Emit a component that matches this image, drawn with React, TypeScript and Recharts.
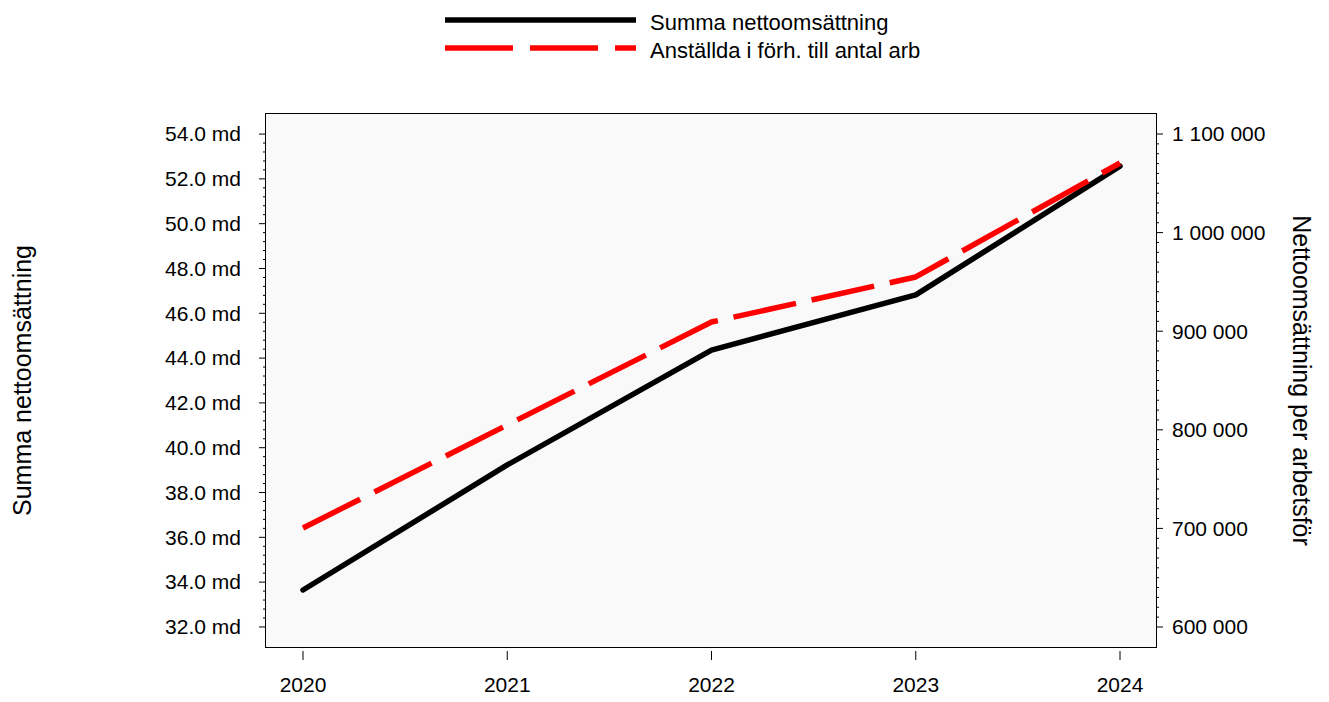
import React from 'react';
import { LineChart, Line, XAxis, YAxis, CartesianGrid } from 'recharts';

const years = ['2020', '2021', '2022', '2023', '2024'];
const summaNetto = [33.65, 39.23, 44.36, 46.82, 52.57]; // md
const perArbetsfor = [700400, 804900, 909300, 955000, 1070600];
const leftMajorTicks = [32, 34, 36, 38, 40, 42, 44, 46, 48, 50, 52, 54];
const rightMajorTicks = [600000, 700000, 800000, 900000, 1000000, 1100000];
const seriesNames = ['Summa nettoomsättning', 'Anställda i förh. till antal arb'];
const axisTitles = ['Summa nettoomsättning', 'Nettoomsättning per arbetsför'];

const data = years.map((y, i) => ({ year: y, summa: summaNetto[i], anst: perArbetsfor[i] }));

const leftTicks: number[] = [];
for (let i = 0; i < leftMajorTicks.length - 1; i++) {
  for (let k = 0; k < 5; k++) leftTicks.push(+(leftMajorTicks[i] + (k * 2) / 5).toFixed(2));
}
leftTicks.push(leftMajorTicks[leftMajorTicks.length - 1]);
const rightTicks: number[] = [];
for (let i = 0; i < rightMajorTicks.length - 1; i++) {
  for (let k = 0; k < 10; k++) rightTicks.push(rightMajorTicks[i] + k * 10000);
}
rightTicks.push(rightMajorTicks[rightMajorTicks.length - 1]);

const FONT = '"Liberation Sans", Arial, sans-serif';
const TICK_FS = 21;

const fmtSpace = (v: number) => String(Math.round(v)).replace(/\B(?=(\d{3})+(?!\d))/g, ' ');

const LeftTick = (props: any) => {
  const { x, y, payload } = props;
  const v = payload.value;
  const major = leftMajorTicks.some((m) => Math.abs(m - v) < 1e-6);
  return (
    <g>
      <line x1={x - (major ? 6 : 2)} x2={x} y1={y} y2={y} stroke="#000" strokeWidth={1} />
      {major && (
        <text x={x - 24} y={y} dy="0.35em" textAnchor="end" fontSize={TICK_FS} fontFamily={FONT} fill="#000">
          {v.toFixed(1) + ' md'}
        </text>
      )}
    </g>
  );
};

const RightTick = (props: any) => {
  const { x, y, payload } = props;
  const v = payload.value;
  const major = rightMajorTicks.includes(v);
  return (
    <g>
      <line x1={x} x2={x + (major ? 6 : 2)} y1={y} y2={y} stroke="#000" strokeWidth={1} />
      {major && (
        <text x={x + 15} y={y} dy="0.35em" textAnchor="start" fontSize={TICK_FS} fontFamily={FONT} fill="#000">
          {fmtSpace(v)}
        </text>
      )}
    </g>
  );
};

const BottomTick = (props: any) => {
  const { x, y, payload } = props;
  return (
    <g>
      <line x1={x} x2={x} y1={y + 3} y2={y + 12} stroke="#000" strokeWidth={1} />
      <text x={x} y={y + 37} dy="0.35em" textAnchor="middle" fontSize={TICK_FS} fontFamily={FONT} fill="#000">
        {payload.value}
      </text>
    </g>
  );
};

const W = 1313;
const H = 694;
const TOP = 105;
const LEFT_W = 257;
const RIGHT_W = 164;
const BOTTOM_H = 54;
const plotH = H - TOP - BOTTOM_H;
const plotW = W - LEFT_W - RIGHT_W;
const plotCY = TOP + plotH / 2;

export default function App() {
  return (
    <div style={{ position: 'relative', width: W, height: H, fontFamily: FONT }}>
      <LineChart width={W} height={H} data={data} margin={{ top: TOP, left: 0, right: 0, bottom: 0 }}>
        <CartesianGrid yAxisId="l" horizontal={false} vertical={false} fill="#f9f9f9" fillOpacity={1} />
        <XAxis
          dataKey="year"
          height={BOTTOM_H}
          padding={{ left: 38, right: 37 }}
          axisLine={false}
          tickLine={false}
          tickSize={0}
          tickMargin={0}
          interval={0}
          tick={<BottomTick />}
        />
        <YAxis
          yAxisId="l"
          orientation="left"
          width={LEFT_W}
          domain={[31.06, 54.94]}
          allowDataOverflow
          ticks={leftTicks}
          interval={0}
          axisLine={false}
          tickLine={false}
          tickSize={0}
          tickMargin={0}
          tick={<LeftTick />}
        />
        <YAxis
          yAxisId="r"
          orientation="right"
          width={RIGHT_W}
          domain={[578700, 1121300]}
          allowDataOverflow
          ticks={rightTicks}
          interval={0}
          axisLine={false}
          tickLine={false}
          tickSize={0}
          tickMargin={0}
          tick={<RightTick />}
        />
        <Line
          yAxisId="l"
          dataKey="summa"
          name={seriesNames[0]}
          stroke="#000"
          strokeWidth={5.5}
          strokeLinecap="round"
          strokeLinejoin="round"
          dot={false}
          activeDot={false}
          isAnimationActive={false}
        />
        <Line
          yAxisId="r"
          dataKey="anst"
          name={seriesNames[1]}
          stroke="#ff0000"
          strokeWidth={5.5}
          strokeDasharray="64 16"
          strokeLinejoin="round"
          dot={false}
          activeDot={false}
          isAnimationActive={false}
        />
      </LineChart>
      <svg width={W} height={H} style={{ position: 'absolute', left: 0, top: 0, pointerEvents: 'none' }}>
        <rect x={LEFT_W + 0.5} y={TOP + 0.5} width={plotW - 1} height={plotH - 1} fill="none" stroke="#000" strokeWidth={1} />
        <text
          x={14}
          y={plotCY}
          transform={`rotate(-90 14 ${plotCY})`}
          textAnchor="middle"
          dominantBaseline="central"
          fontSize={25}
          fontFamily={FONT}
          fill="#000"
        >
          {axisTitles[0]}
        </text>
        <text
          x={1294}
          y={plotCY}
          transform={`rotate(90 1294 ${plotCY})`}
          textAnchor="middle"
          dominantBaseline="central"
          fontSize={25}
          fontFamily={FONT}
          fill="#000"
        >
          {axisTitles[1]}
        </text>
        <line x1={437} x2={628} y1={12} y2={12} stroke="#000" strokeWidth={5.5} />
        <line x1={437} x2={628} y1={40} y2={40} stroke="#ff0000" strokeWidth={5.5} strokeDasharray="68 17" />
        <text x={642} y={14} dominantBaseline="central" fontSize={22} fontFamily={FONT} fill="#000">
          {seriesNames[0]}
        </text>
        <text x={642} y={42} dominantBaseline="central" fontSize={22} fontFamily={FONT} fill="#000">
          {seriesNames[1]}
        </text>
      </svg>
    </div>
  );
}
